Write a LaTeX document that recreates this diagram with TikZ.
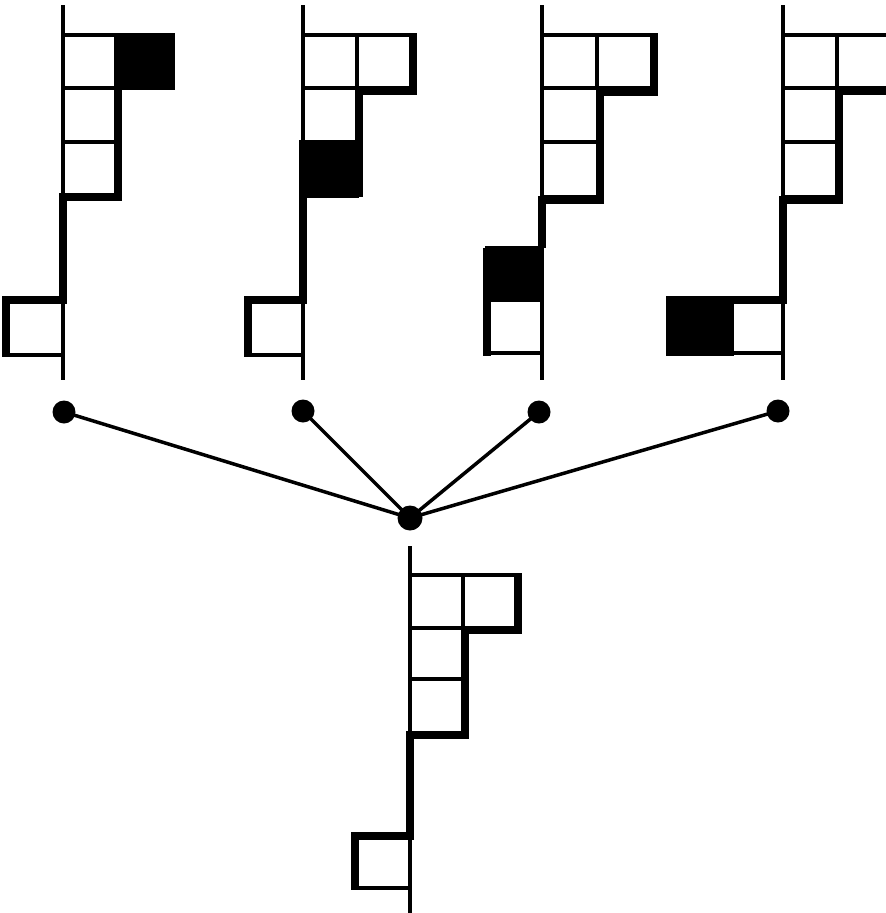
\documentclass[tikz,border=0pt]{standalone}
\begin{document}
\begin{tikzpicture}[x=1pt,y=-1pt,
  thinline/.style={line width=3.5pt},
  frontier/.style={line width=8pt,line join=miter,line cap=butt},
  cell/.style={draw,line width=3.5pt},
  marked/.style={fill=black,draw=black,line width=3.5pt},
  dot/.style={circle,fill=black,inner sep=0pt,minimum size=#1},
  dot/.default=23pt,
  link/.style={line width=3.5pt}]
\useasboundingbox (0,0) rectangle (886,913);
\fill[white] (0,0) rectangle (886,913);

% ---------- first diagram: extra box at the end of the first row ----------
\begin{scope}[shift={(63,35)}]
  \draw[thinline] (0,-30) -- (0,345);
  \draw[cell] (0,0) rectangle (53,53);
  \draw[cell] (0,53) rectangle (53,107);
  \draw[cell] (0,107) rectangle (53,162);
  \draw[cell] (-57,265) rectangle (0,320);
  \draw[marked] (53,0) rectangle (110,53);
  \draw[frontier] (55,53) -- (55,162) -- (0,162) -- (0,265) -- (-57,265) -- (-57,322);
\end{scope}

% ---------- second diagram: third row box marked ----------
\begin{scope}[shift={(303,35)}]
  \draw[thinline] (0,-30) -- (0,345);
  \draw[cell] (0,0) rectangle (54,53);
  \draw[cell] (54,0) rectangle (110,53);
  \draw[cell] (0,53) rectangle (54,107);
  \draw[cell] (-55,265) rectangle (0,320);
  \draw[marked] (-2,107) rectangle (54,161);
  \draw[frontier] (110,-1.75) -- (110,56) -- (56,56) -- (56,162);
  \draw[frontier] (0,162) -- (0,265) -- (-55,265) -- (-55,322);
\end{scope}

% ---------- third diagram: box added above the lower left box ----------
\begin{scope}[shift={(542,35)}]
  \draw[thinline] (0,-30) -- (0,345);
  \draw[cell] (0,0) rectangle (55,53);
  \draw[cell] (55,0) rectangle (112,53);
  \draw[cell] (0,53) rectangle (56,107);
  \draw[cell] (0,107) rectangle (56,162);
  \draw[cell] (-55,265) rectangle (0,318);
  \draw[marked] (-55,213) rectangle (0,265);
  \draw[frontier] (112,-1.75) -- (112,57) -- (58,57) -- (58,165) -- (0,165) -- (0,213);
  \draw[frontier] (-55,213) -- (-55,321);
\end{scope}

% ---------- fourth diagram: box added left of the lower left box ----------
\begin{scope}[shift={(783,35)}]
  \draw[thinline] (0,-30) -- (0,345);
  \draw[cell] (0,0) rectangle (54,53);
  \draw[cell] (54,0) rectangle (130,53);
  \draw[cell] (0,53) rectangle (54,107);
  \draw[cell] (0,107) rectangle (54,162);
  \draw[cell] (-51,265) rectangle (0,318);
  \draw[marked] (-111,264) rectangle (-51,319);
  \draw[frontier] (130,56) -- (56,56) -- (56,165) -- (0,165) -- (0,265) -- (-113,265) -- (-113,321);
\end{scope}

% ---------- connecting tree ----------
\node[dot] (d1) at (64,412) {};
\node[dot] (d2) at (303,411) {};
\node[dot] (d3) at (539,412) {};
\node[dot] (d4) at (778,411) {};
\node[dot=25pt] (c) at (410,518) {};
\foreach \d in {d1,d2,d3,d4}
  \draw[link] (\d.center) -- (c.center);

% ---------- resulting diagram ----------
\begin{scope}[shift={(410,575)}]
  \draw[thinline] (0,-29) -- (0,340);
  \draw[cell] (0,0) rectangle (53,53);
  \draw[cell] (53,0) rectangle (108,53);
  \draw[cell] (0,53) rectangle (53,104);
  \draw[cell] (0,104) rectangle (53,158);
  \draw[cell] (-55,261) rectangle (0,313);
  \draw[frontier] (108,-1.75) -- (108,55) -- (55,55) -- (55,160) -- (0,160) -- (0,261) -- (-55,261) -- (-55,315);
\end{scope}
\end{tikzpicture}
\end{document}
